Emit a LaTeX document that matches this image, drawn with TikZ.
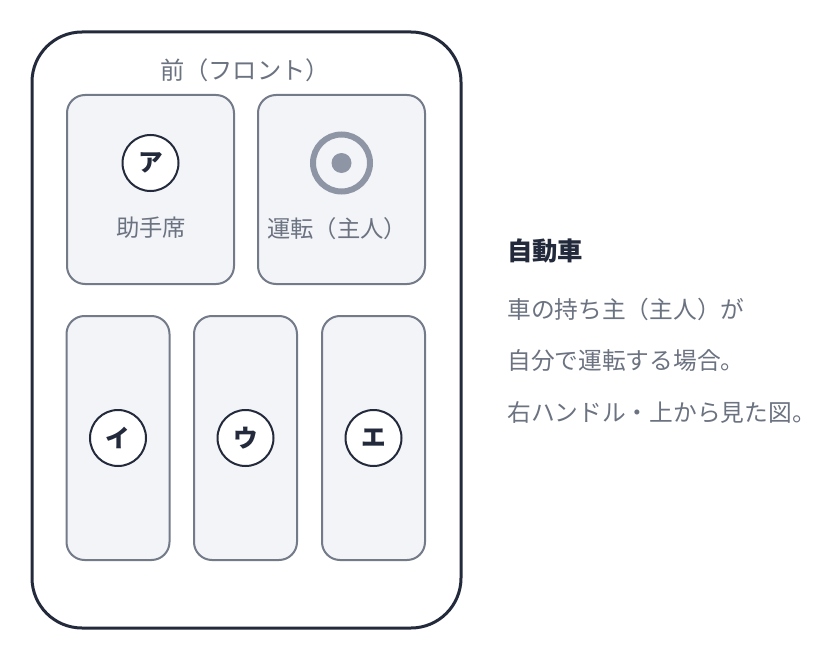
\documentclass[tikz,border=0pt]{standalone}
\usepackage{fontspec}
\usetikzlibrary{positioning}
\newfontfamily\jpfont{Noto Sans CJK JP}
\definecolor{rahmen}{HTML}{232A3B}
\definecolor{grautext}{HTML}{6B7280}
\definecolor{sitzrand}{HTML}{737A88}
\definecolor{sitzfill}{HTML}{F3F4F8}
\definecolor{ring}{HTML}{8E96A5}
\tikzset{
  sitz/.style={draw=sitzrand, fill=sitzfill, line width=1.5pt, rounded corners=13.5pt},
  vornsitz/.style={sitz, minimum width=125.25pt, minimum height=141.75pt},
  hintensitz/.style={sitz, minimum width=77.25pt, minimum height=183pt},
  marke/.style={circle, draw=rahmen, fill=white, line width=1.5pt, minimum size=42pt, inner sep=0pt,
    font=\jpfont\fontsize{18.5}{20}\selectfont\bfseries, text=rahmen},
  beschr/.style={inner sep=0pt, font=\jpfont\fontsize{17.5}{20}\selectfont, text=grautext},
  infotext/.style={inner sep=0pt, anchor=west, font=\jpfont\fontsize{17.8}{20}\selectfont, text=grautext}
}
\begin{document}
\begin{tikzpicture}[x=0.75pt, y=-0.75pt] % Pixel-Koordinaten
  \useasboundingbox (0,0) rectangle (832,660);
  % Karosserie
  \node[draw=rahmen, line width=2.25pt, rounded corners=37.5pt, fill=white,
    minimum width=321.75pt, minimum height=447pt] (auto) at (246.5,330) {};
  \node[beschr, font=\jpfont\fontsize{18.2}{20}\selectfont] (vorn) at (245,70) {前（フロント）};
  % Vordersitze
  \node[vornsitz] (beifahrer) at (150.5,189.5) {};
  \node[vornsitz] (fahrer) at (341.5,189.5) {};
  \node[marke] (a) at (150.5,163) {ア};
  \node[beschr] (beifahrertext) at (151,228) {助手席};
  \node[circle, draw=ring, line width=4.5pt, minimum size=42.75pt, inner sep=0pt] (lenkrad) at (341.5,163) {};
  \fill[ring] (lenkrad.center) circle (7.5pt);
  \node[beschr] (fahrertext) at (337,229) {運転（主人）};
  % Ruecksitze
  \foreach \x/\name/\kana in {118/i/イ, 245.5/u/ウ, 373.5/e/エ} {
    \node[hintensitz] (sitz\name) at (\x,438) {};
    \node[marke] (\name) at (\x,438) {\kana};
  }
  % Beschreibung rechts
  \node[infotext, text=rahmen, font=\jpfont\fontsize{19}{20}\selectfont\bfseries] (titel) at (507,251) {自動車};
  \node[infotext] (zeile1) at (507,309) {車の持ち主（主人）が};
  \node[infotext] (zeile2) at (507,361) {自分で運転する場合。};
  \node[infotext] (zeile3) at (507,412) {右ハンドル・上から見た図。};
\end{tikzpicture}
\end{document}
